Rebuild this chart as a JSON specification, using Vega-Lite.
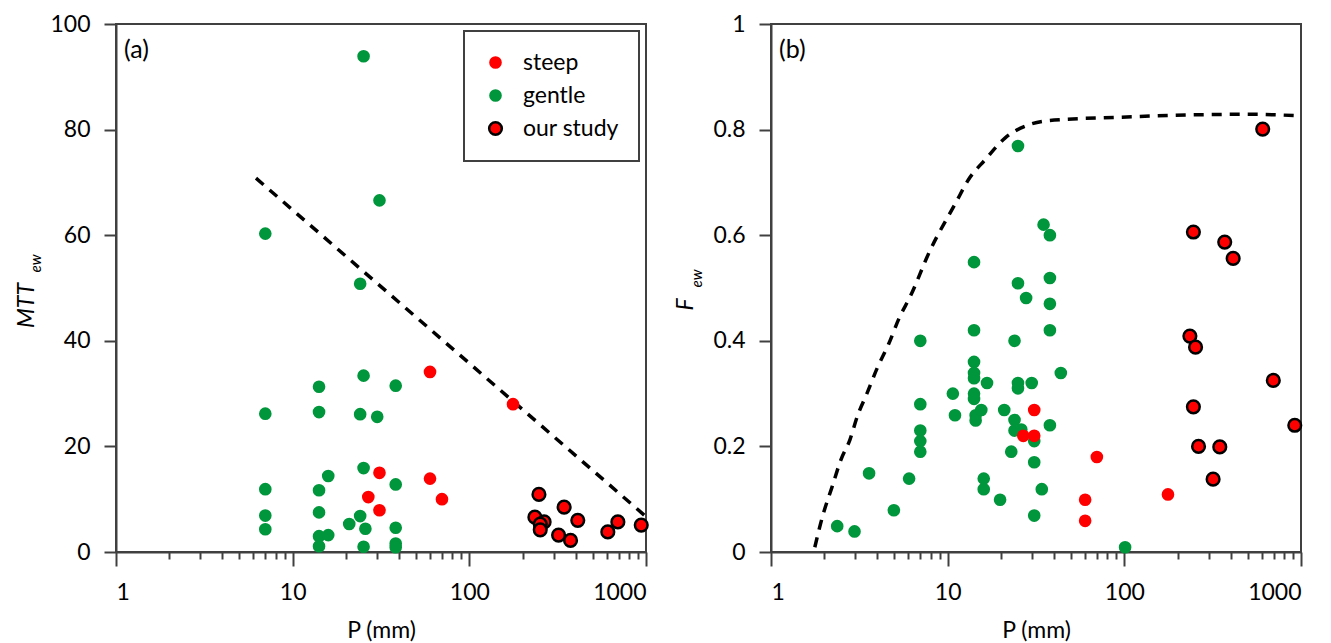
{
  "$schema": "https://vega.github.io/schema/vega-lite/v6.json",
  "padding": {"left": 14, "top": 12, "right": 5, "bottom": 0},
  "spacing": 19,
  "background": "white",
  "config": {
    "font": "Lato",
    "view": {"stroke": "#404040", "strokeWidth": 2},
    "axis": {
      "domainColor": "#404040", "domainWidth": 2, "tickColor": "#404040", "tickWidth": 2,
      "grid": false, "labelFontSize": 23, "labelColor": "#000", "labelFont": "Lato",
      "titleFontSize": 23, "titleFontWeight": "normal", "titleColor": "#000", "titleFont": "Lato"
    },
    "legend": {
      "labelFontSize": 23, "labelFont": "Lato", "labelColor": "#000", "symbolType": "circle",
      "padding": 20, "rowPadding": 9, "labelOffset": 16, "strokeColor": "#404040", "strokeWidth": 2,
      "offset": 7, "fillColor": "white", "symbolStrokeWidth": 2.5
    }
  },
  "datasets": {
    "a_pts": [
      {"P": 25.2, "v": 93.9, "g": "gentle"}, {"P": 31, "v": 66.6, "g": "gentle"}, {"P": 7, "v": 60.3, "g": "gentle"},
      {"P": 24.1, "v": 50.8, "g": "gentle"}, {"P": 7, "v": 26.2, "g": "gentle"}, {"P": 14.1, "v": 31.3, "g": "gentle"},
      {"P": 14.1, "v": 26.5, "g": "gentle"}, {"P": 25.2, "v": 33.4, "g": "gentle"}, {"P": 24.1, "v": 26.1, "g": "gentle"},
      {"P": 30.1, "v": 25.6, "g": "gentle"}, {"P": 38.3, "v": 31.5, "g": "gentle"}, {"P": 25.2, "v": 15.9, "g": "gentle"},
      {"P": 15.9, "v": 14.4, "g": "gentle"}, {"P": 38.3, "v": 12.8, "g": "gentle"}, {"P": 7, "v": 11.9, "g": "gentle"},
      {"P": 14.1, "v": 11.7, "g": "gentle"}, {"P": 7, "v": 6.9, "g": "gentle"}, {"P": 14.1, "v": 7.5, "g": "gentle"},
      {"P": 24.1, "v": 6.8, "g": "gentle"}, {"P": 20.9, "v": 5.3, "g": "gentle"}, {"P": 25.8, "v": 4.4, "g": "gentle"},
      {"P": 38.3, "v": 4.6, "g": "gentle"}, {"P": 7, "v": 4.3, "g": "gentle"}, {"P": 14.1, "v": 3.0, "g": "gentle"},
      {"P": 15.9, "v": 3.2, "g": "gentle"}, {"P": 14.1, "v": 1.1, "g": "gentle"}, {"P": 25.2, "v": 1.0, "g": "gentle"},
      {"P": 38.3, "v": 1.6, "g": "gentle"}, {"P": 38.3, "v": 0.9, "g": "gentle"},
      {"P": 59.9, "v": 34.1, "g": "steep"}, {"P": 176.7, "v": 28.0, "g": "steep"}, {"P": 31, "v": 15.0, "g": "steep"},
      {"P": 59.9, "v": 13.9, "g": "steep"}, {"P": 26.8, "v": 10.4, "g": "steep"}, {"P": 70, "v": 10.0, "g": "steep"},
      {"P": 31, "v": 7.9, "g": "steep"},
      {"P": 247.7, "v": 10.9, "g": "our study"}, {"P": 235, "v": 6.6, "g": "our study"}, {"P": 265, "v": 5.7, "g": "our study"},
      {"P": 252, "v": 5.3, "g": "our study"}, {"P": 252, "v": 4.2, "g": "our study"}, {"P": 344, "v": 8.5, "g": "our study"},
      {"P": 411, "v": 6.0, "g": "our study"}, {"P": 320, "v": 3.2, "g": "our study"}, {"P": 374, "v": 2.2, "g": "our study"},
      {"P": 608, "v": 3.8, "g": "our study"}, {"P": 693, "v": 5.7, "g": "our study"}, {"P": 940, "v": 5.1, "g": "our study"}
    ],
    "a_line": [
      {"P": 6.2, "v": 70.8}, {"P": 1000, "v": 6.7}
    ],
    "b_pts": [
      {"P": 25.0, "v": 0.769, "g": "gentle"}, {"P": 34.9, "v": 0.62, "g": "gentle"}, {"P": 37.9, "v": 0.60, "g": "gentle"},
      {"P": 14.1, "v": 0.549, "g": "gentle"}, {"P": 25.0, "v": 0.509, "g": "gentle"}, {"P": 37.9, "v": 0.519, "g": "gentle"},
      {"P": 27.8, "v": 0.481, "g": "gentle"}, {"P": 37.9, "v": 0.47, "g": "gentle"}, {"P": 14.1, "v": 0.42, "g": "gentle"},
      {"P": 37.9, "v": 0.42, "g": "gentle"}, {"P": 7.0, "v": 0.40, "g": "gentle"}, {"P": 23.9, "v": 0.40, "g": "gentle"},
      {"P": 14.1, "v": 0.36, "g": "gentle"}, {"P": 14.1, "v": 0.339, "g": "gentle"}, {"P": 14.1, "v": 0.329, "g": "gentle"},
      {"P": 43.7, "v": 0.339, "g": "gentle"}, {"P": 16.7, "v": 0.32, "g": "gentle"}, {"P": 25.0, "v": 0.32, "g": "gentle"},
      {"P": 25.0, "v": 0.31, "g": "gentle"}, {"P": 29.9, "v": 0.32, "g": "gentle"}, {"P": 10.7, "v": 0.30, "g": "gentle"},
      {"P": 14.1, "v": 0.30, "g": "gentle"}, {"P": 14.1, "v": 0.29, "g": "gentle"}, {"P": 7.0, "v": 0.28, "g": "gentle"},
      {"P": 15.5, "v": 0.269, "g": "gentle"}, {"P": 20.9, "v": 0.269, "g": "gentle"}, {"P": 11.0, "v": 0.259, "g": "gentle"},
      {"P": 14.4, "v": 0.259, "g": "gentle"}, {"P": 14.4, "v": 0.249, "g": "gentle"}, {"P": 23.9, "v": 0.25, "g": "gentle"},
      {"P": 23.9, "v": 0.23, "g": "gentle"}, {"P": 26.1, "v": 0.232, "g": "gentle"}, {"P": 37.9, "v": 0.24, "g": "gentle"},
      {"P": 7.0, "v": 0.23, "g": "gentle"}, {"P": 7.0, "v": 0.21, "g": "gentle"}, {"P": 7.0, "v": 0.19, "g": "gentle"},
      {"P": 30.9, "v": 0.21, "g": "gentle"}, {"P": 22.9, "v": 0.19, "g": "gentle"}, {"P": 30.9, "v": 0.17, "g": "gentle"},
      {"P": 3.59, "v": 0.149, "g": "gentle"}, {"P": 6.05, "v": 0.139, "g": "gentle"}, {"P": 16.0, "v": 0.139, "g": "gentle"},
      {"P": 16.0, "v": 0.119, "g": "gentle"}, {"P": 34.1, "v": 0.119, "g": "gentle"}, {"P": 19.8, "v": 0.099, "g": "gentle"},
      {"P": 4.96, "v": 0.079, "g": "gentle"}, {"P": 30.9, "v": 0.069, "g": "gentle"}, {"P": 2.37, "v": 0.049, "g": "gentle"},
      {"P": 2.97, "v": 0.039, "g": "gentle"}, {"P": 101, "v": 0.009, "g": "gentle"},
      {"P": 30.9, "v": 0.269, "g": "steep"}, {"P": 26.8, "v": 0.22, "g": "steep"}, {"P": 30.9, "v": 0.22, "g": "steep"},
      {"P": 69.9, "v": 0.18, "g": "steep"}, {"P": 60, "v": 0.099, "g": "steep"}, {"P": 60, "v": 0.059, "g": "steep"},
      {"P": 176.6, "v": 0.109, "g": "steep"},
      {"P": 607, "v": 0.801, "g": "our study"}, {"P": 246, "v": 0.606, "g": "our study"}, {"P": 370, "v": 0.587, "g": "our study"},
      {"P": 413, "v": 0.556, "g": "our study"}, {"P": 235, "v": 0.409, "g": "our study"}, {"P": 253, "v": 0.388, "g": "our study"},
      {"P": 697, "v": 0.325, "g": "our study"}, {"P": 246, "v": 0.275, "g": "our study"}, {"P": 922, "v": 0.24, "g": "our study"},
      {"P": 263, "v": 0.20, "g": "our study"}, {"P": 347, "v": 0.199, "g": "our study"}, {"P": 318, "v": 0.138, "g": "our study"}
    ],
    "b_line": [
      {"P": 1.77, "v": 0.009}, {"P": 1.96, "v": 0.068}, {"P": 2.21, "v": 0.122}, {"P": 2.49, "v": 0.175},
      {"P": 2.80, "v": 0.213}, {"P": 3.08, "v": 0.257}, {"P": 3.47, "v": 0.298}, {"P": 4.0, "v": 0.349},
      {"P": 4.62, "v": 0.393}, {"P": 5.33, "v": 0.444}, {"P": 6.14, "v": 0.484}, {"P": 7.97, "v": 0.572},
      {"P": 11.1, "v": 0.661}, {"P": 13.1, "v": 0.705}, {"P": 16.3, "v": 0.743}, {"P": 21.1, "v": 0.784},
      {"P": 28.7, "v": 0.809}, {"P": 40.1, "v": 0.818}, {"P": 87.8, "v": 0.823}, {"P": 250, "v": 0.828},
      {"P": 500, "v": 0.829}, {"P": 1000, "v": 0.826}
    ]
  },
  "hconcat": [
    {
      "width": 530, "height": 528,
      "layer": [
        {
          "data": {"name": "a_line"},
          "mark": {"type": "line", "color": "#000", "strokeWidth": 3.5, "strokeDash": [10, 8]},
          "encoding": {
            "x": {"field": "P", "type": "quantitative", "scale": {"type": "log", "domain": [1, 1000]},
              "axis": {"orient": "bottom", "values": [1, 10, 100, 1000], "format": "d", "tickSize": 14, "labelPadding": 15, "title": "P (mm)", "titlePadding": 15}},
            "y": {"field": "v", "type": "quantitative", "scale": {"domain": [0, 100]},
              "axis": {"orient": "left", "values": [0, 20, 40, 60, 80, 100], "tickSize": 12, "labelPadding": 14,
                "title": "MTT", "titleFontStyle": "italic", "titleFontSize": 23, "titleX": -83, "titleY": 281,
                "titleAlign": "center", "titleBaseline": "alphabetic", "titleAngle": -90}}
          }
        },
        {
          "data": {"name": "a_pts"},
          "mark": {"type": "point", "filled": true, "opacity": 1, "strokeWidth": 2.5},
          "encoding": {
            "x": {"field": "P", "type": "quantitative", "scale": {"type": "log", "domain": [1, 1000]},
              "axis": {"orient": "bottom", "values": [2, 3, 4, 5, 6, 7, 8, 9, 20, 30, 40, 50, 60, 70, 80, 90, 200, 300, 400, 500, 600, 700, 800, 900],
                "tickSize": 7, "labels": false, "domain": false, "title": null}},
            "y": {"field": "v", "type": "quantitative", "scale": {"domain": [0, 100]},
              "axis": {"orient": "left", "labels": false, "ticks": false, "domain": false,
                "title": "ew", "titleFontStyle": "italic", "titleFontSize": 15, "titleX": -76, "titleY": 248,
                "titleAlign": "left", "titleBaseline": "alphabetic", "titleAngle": -90}},
            "fill": {"field": "g", "type": "nominal",
              "scale": {"domain": ["steep", "gentle", "our study"], "range": ["#ff0000", "#00963c", "#ff0000"]},
              "legend": {"orient": "top-right", "title": null}},
            "stroke": {"field": "g", "type": "nominal",
              "scale": {"domain": ["steep", "gentle", "our study"], "range": ["rgba(0,0,0,0)", "rgba(0,0,0,0)", "#000000"]}},
            "size": {"field": "g", "type": "nominal",
              "scale": {"domain": ["steep", "gentle", "our study"], "range": [160, 160, 180]}}
          }
        },
        {
          "data": {"values": [{}]},
          "mark": {"type": "text", "text": "(a)", "align": "left", "baseline": "alphabetic", "fontSize": 25, "font": "Lato", "color": "#000"},
          "encoding": {
            "x": {"datum": 1.11, "type": "quantitative", "axis": null},
            "y": {"datum": 93.6, "type": "quantitative", "axis": null}
          }
        }
      ],
      "resolve": {"axis": {"x": "independent", "y": "independent"}}
    },
    {
      "width": 530, "height": 528,
      "layer": [
        {
          "data": {"name": "b_line"},
          "mark": {"type": "line", "color": "#000", "strokeWidth": 3.5, "strokeDash": [10, 8], "interpolate": "monotone"},
          "encoding": {
            "x": {"field": "P", "type": "quantitative", "scale": {"type": "log", "domain": [1, 1000]},
              "axis": {"orient": "bottom", "values": [1, 10, 100, 1000], "format": "d", "tickSize": 14, "labelPadding": 15, "title": "P (mm)", "titlePadding": 15}},
            "y": {"field": "v", "type": "quantitative", "scale": {"domain": [0, 1]},
              "axis": {"orient": "left", "values": [0, 0.2, 0.4, 0.6, 0.8, 1], "format": "~g", "tickSize": 12, "labelPadding": 14,
                "title": "F", "titleFontStyle": "italic", "titleFontSize": 23, "titleX": -79, "titleY": 286,
                "titleAlign": "left", "titleBaseline": "alphabetic", "titleAngle": -90}}
          }
        },
        {
          "data": {"name": "b_pts"},
          "mark": {"type": "point", "filled": true, "opacity": 1, "strokeWidth": 2.5},
          "encoding": {
            "x": {"field": "P", "type": "quantitative", "scale": {"type": "log", "domain": [1, 1000]},
              "axis": {"orient": "bottom", "values": [2, 3, 4, 5, 6, 7, 8, 9, 20, 30, 40, 50, 60, 70, 80, 90, 200, 300, 400, 500, 600, 700, 800, 900],
                "tickSize": 7, "labels": false, "domain": false, "title": null}},
            "y": {"field": "v", "type": "quantitative", "scale": {"domain": [0, 1]},
              "axis": {"orient": "left", "labels": false, "ticks": false, "domain": false,
                "title": "ew", "titleFontStyle": "italic", "titleFontSize": 15, "titleX": -70, "titleY": 263,
                "titleAlign": "left", "titleBaseline": "alphabetic", "titleAngle": -90}},
            "fill": {"field": "g", "type": "nominal",
              "scale": {"domain": ["steep", "gentle", "our study"], "range": ["#ff0000", "#00963c", "#ff0000"]},
              "legend": null},
            "stroke": {"field": "g", "type": "nominal",
              "scale": {"domain": ["steep", "gentle", "our study"], "range": ["rgba(0,0,0,0)", "rgba(0,0,0,0)", "#000000"]}, "legend": null},
            "size": {"field": "g", "type": "nominal",
              "scale": {"domain": ["steep", "gentle", "our study"], "range": [160, 160, 180]}, "legend": null}
          }
        },
        {
          "data": {"values": [{}]},
          "mark": {"type": "text", "text": "(b)", "align": "left", "baseline": "alphabetic", "fontSize": 25, "font": "Lato", "color": "#000"},
          "encoding": {
            "x": {"datum": 1.11, "type": "quantitative", "axis": null},
            "y": {"datum": 0.936, "type": "quantitative", "axis": null}
          }
        }
      ],
      "resolve": {"axis": {"x": "independent", "y": "independent"}}
    }
  ],
  "resolve": {"scale": {"fill": "independent", "stroke": "independent", "size": "independent"}}
}
